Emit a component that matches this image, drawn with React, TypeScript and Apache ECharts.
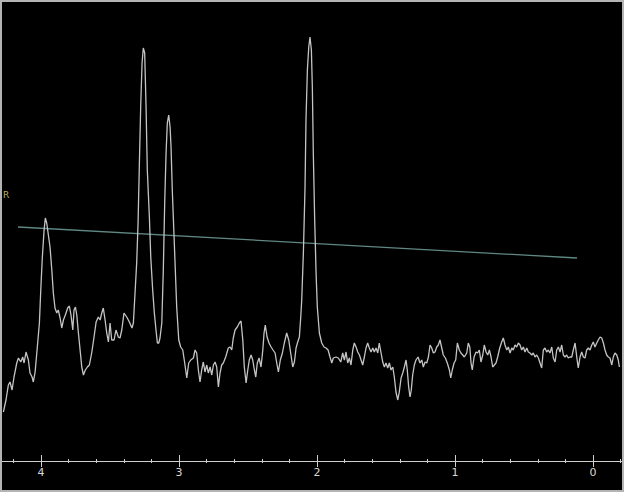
import React, { useEffect, useRef } from "react";
import * as echarts from "echarts";

// Spectrum: [chemical shift (ppm), signal (a.u.)]
const segA: [number, number][] = [
  [4.273,49],[4.254,61],[4.237,76],[4.225,79],[4.210,71],[4.196,84],[4.176,98],[4.164,103],[4.147,99],[4.133,104],
  [4.123,98],[4.109,109],[4.092,101],[4.080,88],[4.065,84],[4.056,79],[4.043,89],[4.027,114],[4.012,138],[4.002,171],
  [3.991,203],[3.978,231],[3.969,243],[3.959,238],[3.947,226],[3.935,214],[3.922,191],[3.911,168],[3.899,153],[3.886,148],
  [3.875,151],[3.862,143],[3.850,133],[3.838,141],[3.824,146],[3.807,153],[3.795,155],[3.783,146],[3.770,131],[3.761,151],
  [3.751,154],[3.741,146],[3.730,129],[3.717,111],[3.705,94],[3.693,86],[3.679,91],[3.664,94],[3.650,96],[3.633,108],
  [3.616,124],[3.601,139],[3.585,144],[3.572,141],[3.560,148],[3.549,153]
];
const segB: [number, number][] = [
  [3.536,141],[3.524,128],[3.512,119],[3.500,138],[3.488,121],[3.471,121],[3.457,131],[3.440,124],[3.428,123],[3.415,131],
  [3.399,148],[3.379,144],[3.360,139],[3.341,133],[3.331,138],[3.319,168],[3.307,198],[3.297,238],[3.288,294],[3.278,354],
  [3.268,398],[3.259,413],[3.249,408],[3.239,354],[3.230,291],[3.215,244],[3.205,204],[3.191,171],[3.179,148],[3.167,131],
  [3.157,118],[3.147,118],[3.138,123],[3.125,138],[3.114,191],[3.104,258],[3.094,308],[3.085,338],[3.075,346],[3.065,334],
  [3.058,314],[3.049,271],[3.036,224],[3.027,191],[3.017,154],[3.002,121],[2.988,114],[2.973,111],[2.959,98],[2.944,83],
  [2.930,98],[2.915,101],[2.896,103]
];
const segC: [number, number][] = [
  [2.884,111],[2.872,108],[2.860,91],[2.848,79],[2.836,91],[2.824,99],[2.812,89],[2.799,96],[2.788,88],[2.775,94],
  [2.763,86],[2.751,96],[2.739,99],[2.727,94],[2.715,74],[2.703,88],[2.691,96],[2.679,98],[2.662,104],[2.643,113],
  [2.630,114],[2.618,111],[2.607,123],[2.594,131],[2.578,134],[2.563,138],[2.551,140],[2.538,121],[2.527,94],[2.514,78],
  [2.502,91],[2.491,101],[2.478,106],[2.466,101],[2.454,91],[2.444,84],[2.433,98],[2.420,103],[2.406,94],[2.393,111],
  [2.384,128],[2.375,136],[2.362,124],[2.348,118],[2.333,114],[2.319,111],[2.304,108],[2.292,98],[2.280,89],[2.266,101],
  [2.251,108],[2.237,118],[2.220,128],[2.205,121],[2.191,108],[2.176,94],[2.164,99],[2.152,113],[2.140,119],[2.128,124],
  [2.118,144]
];
const segD: [number, number][] = [
  [2.111,161],[2.099,208],[2.087,274],[2.080,341],[2.070,391],[2.060,414],[2.051,424],[2.041,411],[2.034,374],[2.027,308],
  [2.017,241],[2.007,188],[1.998,154],[1.983,128]
];
const segE: [number, number][] = [
  [1.966,118],[1.949,114],[1.935,113],[1.920,111],[1.906,104],[1.893,98],[1.882,103],[1.862,104],[1.846,103],[1.828,99],
  [1.814,108],[1.802,101],[1.790,109],[1.778,98],[1.766,103],[1.754,96],[1.741,111],[1.730,118],[1.717,114],[1.705,109],
  [1.693,106],[1.681,101],[1.669,96],[1.657,104],[1.645,113],[1.633,118],[1.621,113],[1.609,109],[1.596,113],[1.585,109],
  [1.572,113],[1.560,108],[1.549,118],[1.536,108],[1.524,99],[1.512,94],[1.500,98],[1.488,93],[1.476,98],[1.464,91],
  [1.451,94],[1.440,84],[1.428,69],[1.415,61],[1.404,69],[1.391,83],[1.379,88],[1.367,94],[1.355,101],[1.346,91],
  [1.336,74],[1.326,64],[1.317,71],[1.307,86],[1.295,96],[1.283,101],[1.268,104],[1.254,98],[1.241,101],[1.230,94],
  [1.217,99],[1.205,98],[1.193,104],[1.181,116],[1.169,113],[1.157,108],[1.145,109],[1.133,114],[1.121,116],[1.109,121],
  [1.096,113],[1.085,106],[1.070,103],[1.056,98],[1.041,91],[1.031,83],[1.020,91],[1.007,98],[0.995,101],[0.983,118],
  [0.969,111],[0.957,108],[0.944,106],[0.933,104],[0.915,108]
];
const segF: [number, number][] = [
  [0.904,118],[0.893,114],[0.884,98],[0.875,91],[0.862,104],[0.848,109],[0.836,108],[0.824,111],[0.812,99],[0.799,106],
  [0.788,116],[0.775,109],[0.763,106],[0.751,111],[0.739,104],[0.727,94],[0.715,96],[0.703,98],[0.691,104],[0.676,113],
  [0.662,119],[0.650,123],[0.638,116],[0.625,111],[0.614,114],[0.601,108],[0.589,113],[0.578,111],[0.565,116],[0.553,114],
  [0.541,118],[0.529,116],[0.517,111],[0.505,114],[0.493,109],[0.480,113],[0.469,109],[0.457,108],[0.444,106],[0.433,108],
  [0.420,104],[0.408,106],[0.396,103],[0.384,98],[0.372,93],[0.360,111],[0.348,113],[0.336,109],[0.324,111],[0.312,108],
  [0.299,114],[0.288,103],[0.275,99],[0.263,111],[0.251,114],[0.239,109],[0.227,116],[0.215,106],[0.203,104],[0.191,106],
  [0.179,103],[0.167,104],[0.154,104],[0.143,111],[0.130,118],[0.118,104],[0.107,93],[0.094,104],[0.082,109],[0.070,104],
  [0.058,103],[0.046,111],[0.034,113],[0.022,111],[0.009,116],[-0.002,119],[-0.014,114],[-0.027,118],[-0.038,121],[-0.051,124],
  [-0.063,123],[-0.075,118],[-0.087,111],[-0.099,106],[-0.111,104],[-0.123,103],[-0.136,96],[-0.147,104],[-0.159,108],[-0.172,106],
  [-0.183,101],[-0.191,94]
];

// Fitted baseline (two end points)
const baselineShift = [4.167, 0.116];
const baselineLevel = [234, 203];

// Axis ticks
const majorTicks = [4, 3, 2, 1, 0];
const minorTicks = [4.2, 3.8, 3.6, 3.4, 3.2, 2.8, 2.6, 2.4, 2.2, 1.8, 1.6, 1.4, 1.2, 0.8, 0.6, 0.4, 0.2, -0.2];

const X_MIN = -0.21;
const X_MAX = 4.283;
const Y_MIN = 0;
const Y_MAX = 459;

export default function App() {
  const ref = useRef<HTMLDivElement>(null);

  useEffect(() => {
    document.body.style.margin = "0";
    if (!ref.current) return;
    const chart = echarts.init(ref.current, null, { renderer: "svg" });
    const spectrum = [...segA, ...segB, ...segC, ...segD, ...segE, ...segF];
    const baseline = baselineShift.map((s, i) => [s, baselineLevel[i]]);
    const tickColor = "#cfcfcf";
    const baseAxis = {
      type: "value",
      min: X_MIN,
      max: X_MAX,
      inverse: true,
      position: "bottom",
      splitLine: { show: false },
      axisLine: { show: false },
      axisLabel: { show: false },
    };
    chart.setOption({
      animation: false,
      backgroundColor: "#000000",
      grid: { left: 0, right: 0, top: 0, bottom: 29, containLabel: false },
      xAxis: [
        {
          ...baseAxis,
          axisLine: { show: true, onZero: false, lineStyle: { color: tickColor, width: 1 } },
          axisTick: { show: true, inside: false, length: 6, customValues: majorTicks, lineStyle: { color: tickColor, width: 1 } },
          axisLabel: {
            show: true,
            customValues: majorTicks,
            color: "#d8d8d8",
            fontSize: 11,
            fontFamily: "DejaVu Sans",
            margin: 6,
            formatter: (v: number) => String(Math.round(v)),
          },
        },
        {
          ...baseAxis,
          axisTick: { show: true, inside: true, length: 6, customValues: majorTicks, lineStyle: { color: tickColor, width: 1 } },
        },
        {
          ...baseAxis,
          axisTick: { show: true, inside: false, length: 2, customValues: minorTicks, lineStyle: { color: tickColor, width: 1 } },
        },
        {
          ...baseAxis,
          axisTick: { show: true, inside: true, length: 2, customValues: minorTicks, lineStyle: { color: tickColor, width: 1 } },
        },
      ],
      yAxis: { type: "value", min: Y_MIN, max: Y_MAX, show: false },
      series: [
        {
          type: "line",
          name: "spectrum",
          data: spectrum,
          symbol: "none",
          showSymbol: false,
          xAxisIndex: 0,
          lineStyle: { color: "#c4c4c4", width: 1.3 },
          z: 3,
        },
        {
          type: "line",
          name: "baseline",
          data: baseline,
          symbol: "none",
          showSymbol: false,
          xAxisIndex: 0,
          lineStyle: { color: "#5f8884", width: 1.3 },
          z: 2,
        },
      ],
      graphic: [
        {
          type: "text",
          left: 1,
          top: 188,
          style: { text: "R", fill: "#bfae5e", fontSize: 9, fontFamily: "DejaVu Sans" },
        },
      ],
    });
    return () => chart.dispose();
  }, []);

  return (
    <div
      style={{
        width: 624,
        height: 492,
        boxSizing: "border-box",
        border: "2px solid #b4b4b4",
        background: "#000",
      }}
    >
      <div ref={ref} style={{ width: 620, height: 488 }} />
    </div>
  );
}
